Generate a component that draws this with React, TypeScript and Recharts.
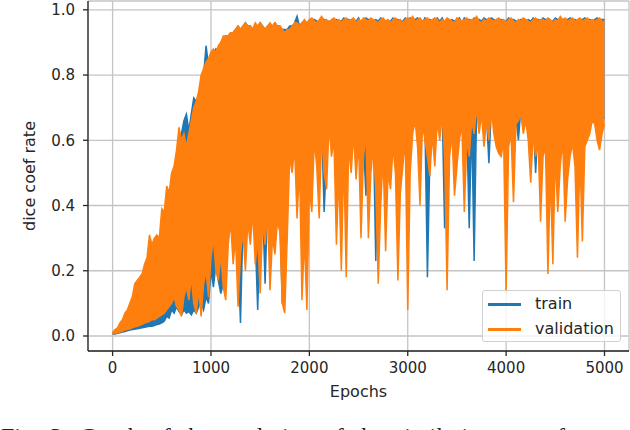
import { ComposedChart, Area, XAxis, YAxis, CartesianGrid } from "recharts";

// sampled every 25 epochs; each sample keeps the low / high reach of the noisy curve
const epochs = [
  0, 25, 50, 75, 100, 125, 150, 175,
  200, 225, 250, 275, 300, 325, 350, 375,
  400, 425, 450, 475, 500, 525, 550, 575,
  600, 625, 650, 675, 700, 725, 750, 775,
  800, 825, 850, 875, 900, 925, 950, 975,
  1000, 1025, 1050, 1075, 1100, 1125, 1150, 1175,
  1200, 1225, 1250, 1275, 1300, 1325, 1350, 1375,
  1400, 1425, 1450, 1475, 1500, 1525, 1550, 1575,
  1600, 1625, 1650, 1675, 1700, 1725, 1750, 1775,
  1800, 1825, 1850, 1875, 1900, 1925, 1950, 1975,
  2000, 2025, 2050, 2075, 2100, 2125, 2150, 2175,
  2200, 2225, 2250, 2275, 2300, 2325, 2350, 2375,
  2400, 2425, 2450, 2475, 2500, 2525, 2550, 2575,
  2600, 2625, 2650, 2675, 2700, 2725, 2750, 2775,
  2800, 2825, 2850, 2875, 2900, 2925, 2950, 2975,
  3000, 3025, 3050, 3075, 3100, 3125, 3150, 3175,
  3200, 3225, 3250, 3275, 3300, 3325, 3350, 3375,
  3400, 3425, 3450, 3475, 3500, 3525, 3550, 3575,
  3600, 3625, 3650, 3675, 3700, 3725, 3750, 3775,
  3800, 3825, 3850, 3875, 3900, 3925, 3950, 3975,
  4000, 4025, 4050, 4075, 4100, 4125, 4150, 4175,
  4200, 4225, 4250, 4275, 4300, 4325, 4350, 4375,
  4400, 4425, 4450, 4475, 4500, 4525, 4550, 4575,
  4600, 4625, 4650, 4675, 4700, 4725, 4750, 4775,
  4800, 4825, 4850, 4875, 4900, 4925, 4950, 4975,
  4999,
];

const trainLow = [
  0.005, 0.006, 0.008, 0.01, 0.012, 0.014, 0.016, 0.018,
  0.02, 0.021, 0.022, 0.024, 0.025, 0.027, 0.028, 0.03,
  0.03, 0.032, 0.035, 0.037, 0.04, 0.045, 0.06, 0.055,
  0.08, 0.07, 0.09, 0.075, 0.065, 0.08, 0.07, 0.075,
  0.065, 0.08, 0.07, 0.09, 0.1, 0.08, 0.12, 0.1,
  0.2, 0.15, 0.22, 0.17, 0.13, 0.16, 0.2, 0.3,
  0.38, 0.3, 0.35, 0.25, 0.04, 0.35, 0.3, 0.4,
  0.35, 0.4, 0.3, 0.08, 0.35, 0.4, 0.16, 0.4,
  0.35, 0.4, 0.3, 0.4, 0.38, 0.1, 0.4, 0.45,
  0.6, 0.55, 0.6, 0.5, 0.55, 0.4, 0.5, 0.54,
  0.6, 0.5, 0.65, 0.6, 0.5, 0.65, 0.38, 0.55,
  0.68, 0.6, 0.65, 0.5, 0.6, 0.45, 0.6, 0.5,
  0.65, 0.6, 0.65, 0.55, 0.65, 0.5, 0.6, 0.43,
  0.55, 0.6, 0.65, 0.23, 0.5, 0.55, 0.6, 0.5,
  0.6, 0.55, 0.62, 0.6, 0.5, 0.55, 0.6, 0.65,
  0.55, 0.6, 0.65, 0.68, 0.62, 0.55, 0.66, 0.65,
  0.18, 0.55, 0.65, 0.6, 0.68, 0.66, 0.7, 0.33,
  0.5, 0.6, 0.65, 0.55, 0.6, 0.65, 0.68, 0.6,
  0.65, 0.33, 0.66, 0.23, 0.7, 0.66, 0.7, 0.65,
  0.68, 0.53, 0.7, 0.65, 0.66, 0.56, 0.6, 0.65,
  0.6, 0.65, 0.66, 0.6, 0.67, 0.6, 0.7, 0.66,
  0.68, 0.65, 0.6, 0.66, 0.5, 0.65, 0.6, 0.62,
  0.62, 0.55, 0.6, 0.58, 0.62, 0.6, 0.58, 0.63,
  0.6, 0.58, 0.6, 0.64, 0.6, 0.58, 0.62, 0.6,
  0.62, 0.64, 0.66, 0.68, 0.67, 0.64, 0.63, 0.66,
  0.67,
];

const trainHigh = [
  0.008, 0.012, 0.018, 0.025, 0.03, 0.04, 0.05, 0.06,
  0.07, 0.08, 0.09, 0.1, 0.11, 0.12, 0.13, 0.15,
  0.16, 0.18, 0.2, 0.22, 0.25, 0.28, 0.32, 0.38,
  0.45, 0.5, 0.55, 0.58, 0.62, 0.66, 0.68, 0.63,
  0.68, 0.73, 0.72, 0.73, 0.78, 0.8, 0.89, 0.83,
  0.84, 0.86, 0.88, 0.87, 0.9, 0.91, 0.92, 0.92,
  0.93, 0.93, 0.94, 0.95, 0.94, 0.95, 0.96, 0.95,
  0.95, 0.94, 0.95, 0.95, 0.96, 0.95, 0.94, 0.95,
  0.95, 0.95, 0.96, 0.95, 0.95, 0.94, 0.94, 0.94,
  0.95, 0.95, 0.96, 0.98, 0.95, 0.96, 0.96, 0.96,
  0.965, 0.97, 0.97, 0.965, 0.965, 0.975, 0.97, 0.965,
  0.965, 0.965, 0.97, 0.97, 0.965, 0.965, 0.975, 0.97,
  0.97, 0.965, 0.97, 0.965, 0.975, 0.96, 0.97, 0.975,
  0.97, 0.97, 0.965, 0.97, 0.965, 0.975, 0.97, 0.96,
  0.965, 0.965, 0.975, 0.97, 0.97, 0.965, 0.965, 0.975,
  0.97, 0.975, 0.97, 0.97, 0.975, 0.97, 0.96, 0.975,
  0.97, 0.97, 0.965, 0.97, 0.975, 0.965, 0.975, 0.96,
  0.97, 0.965, 0.97, 0.965, 0.97, 0.975, 0.96, 0.975,
  0.97, 0.97, 0.965, 0.975, 0.97, 0.97, 0.965, 0.975,
  0.97, 0.97, 0.975, 0.97, 0.965, 0.97, 0.97, 0.965,
  0.965, 0.975, 0.97, 0.97, 0.965, 0.965, 0.97, 0.97,
  0.965, 0.97, 0.965, 0.975, 0.97, 0.97, 0.965, 0.975,
  0.97, 0.97, 0.965, 0.965, 0.975, 0.97, 0.97, 0.965,
  0.97, 0.97, 0.975, 0.97, 0.97, 0.965, 0.97, 0.97,
  0.975, 0.97, 0.97, 0.965, 0.97, 0.975, 0.97, 0.97,
  0.97,
];

const valLow = [
  0.005, 0.008, 0.01, 0.012, 0.015, 0.018, 0.02, 0.022,
  0.025, 0.028, 0.03, 0.033, 0.036, 0.04, 0.042, 0.045,
  0.05, 0.05, 0.055, 0.06, 0.065, 0.07, 0.08, 0.09,
  0.1, 0.12, 0.09, 0.08, 0.06, 0.12, 0.15, 0.11,
  0.18, 0.1, 0.07, 0.14, 0.06, 0.16, 0.2, 0.12,
  0.24, 0.3, 0.2, 0.17, 0.25, 0.15, 0.11, 0.28,
  0.35, 0.22, 0.3, 0.09, 0.25, 0.32, 0.2, 0.35,
  0.28, 0.38, 0.22, 0.3, 0.13, 0.35, 0.28, 0.38,
  0.14, 0.3, 0.25, 0.35, 0.32, 0.1, 0.07, 0.3,
  0.55, 0.5, 0.58, 0.36, 0.52, 0.11, 0.3, 0.08,
  0.45, 0.38, 0.6, 0.52, 0.36, 0.62, 0.5, 0.45,
  0.65, 0.55, 0.6, 0.28, 0.5, 0.2, 0.55, 0.18,
  0.58, 0.5, 0.62, 0.48, 0.6, 0.3, 0.55, 0.62,
  0.3, 0.5, 0.58, 0.45, 0.16, 0.4, 0.55, 0.26,
  0.5, 0.45, 0.58, 0.5, 0.17, 0.44, 0.52, 0.6,
  0.08, 0.5, 0.62, 0.66, 0.58, 0.4, 0.65, 0.6,
  0.55, 0.49, 0.62, 0.52, 0.66, 0.6, 0.68, 0.55,
  0.14, 0.55, 0.62, 0.43, 0.52, 0.6, 0.65, 0.38,
  0.6, 0.55, 0.66, 0.62, 0.7, 0.62, 0.68, 0.58,
  0.66, 0.6, 0.7, 0.62, 0.58, 0.56, 0.55, 0.6,
  0.13, 0.58, 0.62, 0.41, 0.65, 0.66, 0.68, 0.62,
  0.66, 0.6, 0.47, 0.62, 0.55, 0.6, 0.35, 0.55,
  0.58, 0.19, 0.5, 0.22, 0.55, 0.38, 0.52, 0.6,
  0.35, 0.48, 0.55, 0.59, 0.52, 0.24, 0.55, 0.29,
  0.58, 0.6, 0.62, 0.66, 0.65, 0.6, 0.57, 0.62,
  0.65,
];

const valHigh = [
  0.01, 0.02, 0.025, 0.04, 0.05, 0.07, 0.08, 0.1,
  0.12, 0.16, 0.17, 0.18, 0.19, 0.22, 0.24, 0.31,
  0.28, 0.3, 0.31, 0.3, 0.39, 0.38, 0.46, 0.44,
  0.5, 0.52, 0.57, 0.64, 0.6, 0.62, 0.58, 0.62,
  0.66, 0.7, 0.72, 0.75, 0.8, 0.82, 0.84, 0.85,
  0.87, 0.88, 0.87, 0.89, 0.9, 0.92, 0.92, 0.92,
  0.93, 0.93, 0.94, 0.95, 0.94, 0.95, 0.96, 0.95,
  0.95, 0.94, 0.96, 0.95, 0.96, 0.95, 0.94, 0.95,
  0.96, 0.95, 0.96, 0.95, 0.95, 0.94, 0.93, 0.94,
  0.94, 0.95, 0.96, 0.96, 0.95, 0.96, 0.97, 0.96,
  0.97, 0.975, 0.965, 0.96, 0.97, 0.98, 0.965, 0.97,
  0.96, 0.97, 0.975, 0.965, 0.97, 0.96, 0.97, 0.975,
  0.965, 0.97, 0.975, 0.96, 0.97, 0.965, 0.975, 0.97,
  0.965, 0.975, 0.97, 0.965, 0.96, 0.97, 0.975, 0.965,
  0.97, 0.96, 0.97, 0.975, 0.965, 0.97, 0.96, 0.97,
  0.975, 0.97, 0.98, 0.965, 0.97, 0.975, 0.965, 0.97,
  0.975, 0.965, 0.97, 0.975, 0.97, 0.96, 0.97, 0.965,
  0.975, 0.97, 0.965, 0.96, 0.975, 0.97, 0.965, 0.97,
  0.975, 0.965, 0.97, 0.97, 0.98, 0.965, 0.96, 0.97,
  0.965, 0.975, 0.97, 0.965, 0.97, 0.975, 0.965, 0.97,
  0.96, 0.97, 0.975, 0.965, 0.96, 0.97, 0.965, 0.975,
  0.97, 0.965, 0.96, 0.97, 0.975, 0.965, 0.97, 0.97,
  0.965, 0.975, 0.97, 0.96, 0.97, 0.965, 0.98, 0.97,
  0.975, 0.965, 0.97, 0.975, 0.965, 0.97, 0.975, 0.965,
  0.97, 0.975, 0.965, 0.97, 0.965, 0.97, 0.975, 0.965,
  0.965,
];

const xTicks = [0, 1000, 2000, 3000, 4000, 5000];
const yTicks = [0, 0.2, 0.4, 0.6, 0.8, 1.0];
const legendItems = [
  { name: "train", color: "#1f77b4" },
  { name: "validation", color: "#ff7f0e" },
];

const BLUE = "#1f77b4";
const ORANGE = "#ff7f0e";
const INK = "#262626";
const FONT = "'DejaVu Sans', sans-serif";
const X_DOMAIN = [-250, 5249];
const Y_DOMAIN = [-0.046, 1.027];

const rows = epochs.map((epoch, i) => ({
  epoch,
  train: [trainLow[i], trainHigh[i]],
  validation: [valLow[i], valHigh[i]],
}));

const YLabel = (props: any) => {
  const vb = props.viewBox ?? { x: 0, y: 1, width: 88, height: 350 };
  const cx = vb.x + 35;
  const cy = vb.y + vb.height / 2;
  return (
    <text
      x={cx}
      y={cy}
      transform={`rotate(-90 ${cx} ${cy})`}
      textAnchor="middle"
      fill={INK}
      fontSize={16}
      fontFamily={FONT}
    >
      dice coef rate
    </text>
  );
};

export default function App() {
  const tickStyle = { fill: INK, fontSize: 15, fontFamily: FONT };
  const spine = { stroke: INK, strokeWidth: 1.3 };

  return (
    <div
      style={{
        position: "absolute",
        left: 0,
        top: 0,
        width: 630,
        height: 430,
        overflow: "hidden",
        background: "#fff",
      }}
    >
      <ComposedChart
        width={630}
        height={430}
        data={rows}
        margin={{ top: 1, right: 1, bottom: 29, left: 0 }}
      >
        <CartesianGrid stroke="#c4c4c4" strokeWidth={1.3} />
        <XAxis
          dataKey="epoch"
          type="number"
          domain={X_DOMAIN}
          ticks={xTicks}
          allowDataOverflow
          height={50}
          tickSize={5}
          tickMargin={6}
          tick={tickStyle}
          axisLine={spine}
          tickLine={spine}
          label={{
            value: "Epochs",
            position: "insideBottom",
            offset: 4,
            fill: INK,
            fontSize: 16,
            fontFamily: FONT,
          }}
        />
        <YAxis
          type="number"
          domain={Y_DOMAIN}
          ticks={yTicks}
          allowDataOverflow
          width={88}
          tickSize={5}
          tickMargin={8}
          tick={tickStyle}
          tickFormatter={(v: number) => v.toFixed(1)}
          axisLine={spine}
          tickLine={spine}
          label={<YLabel />}
        />
        <XAxis
          xAxisId="top"
          orientation="top"
          dataKey="epoch"
          type="number"
          domain={X_DOMAIN}
          allowDataOverflow
          height={0}
          tick={false}
          tickLine={false}
          axisLine={spine}
        />
        <YAxis
          yAxisId="right"
          orientation="right"
          type="number"
          domain={Y_DOMAIN}
          allowDataOverflow
          width={0}
          tick={false}
          tickLine={false}
          axisLine={spine}
        />
        <Area
          dataKey="train"
          type="linear"
          stroke={BLUE}
          strokeWidth={1.5}
          fill={BLUE}
          fillOpacity={1}
          dot={false}
          activeDot={false}
          isAnimationActive={false}
        />
        <Area
          dataKey="validation"
          type="linear"
          stroke={ORANGE}
          strokeWidth={1.5}
          fill={ORANGE}
          fillOpacity={1}
          dot={false}
          activeDot={false}
          isAnimationActive={false}
        />
      </ComposedChart>

      {/* Legend */}
      <div
        style={{
          position: "absolute",
          left: 482,
          top: 290,
          width: 137,
          height: 50,
          border: "1px solid #d0d0d0",
          borderRadius: 3,
          background: "rgba(255,255,255,0.8)",
          fontFamily: FONT,
          fontSize: 16,
          color: INK,
        }}
      >
        {legendItems.map((item, i) => (
          <div
            key={item.name}
            style={{
              position: "absolute",
              left: 5,
              top: 3 + i * 25,
              height: 20,
              display: "flex",
              alignItems: "center",
            }}
          >
            <div
              style={{
                width: 33,
                height: 3,
                background: item.color,
                marginRight: 14,
              }}
            />
            <span style={{ lineHeight: "20px" }}>{item.name}</span>
          </div>
        ))}
      </div>

      {/* caption, cut off by the bottom edge as in the source figure */}
      <div
        style={{
          position: "absolute",
          left: 1,
          top: 424,
          fontFamily: "'Liberation Serif', serif",
          fontSize: 24,
          lineHeight: "24px",
          whiteSpace: "nowrap",
          wordSpacing: 5,
          color: "#222",
        }}
      >
        Fig. 3: Graph of the evolution of the similarity rate of
      </div>
    </div>
  );
}
